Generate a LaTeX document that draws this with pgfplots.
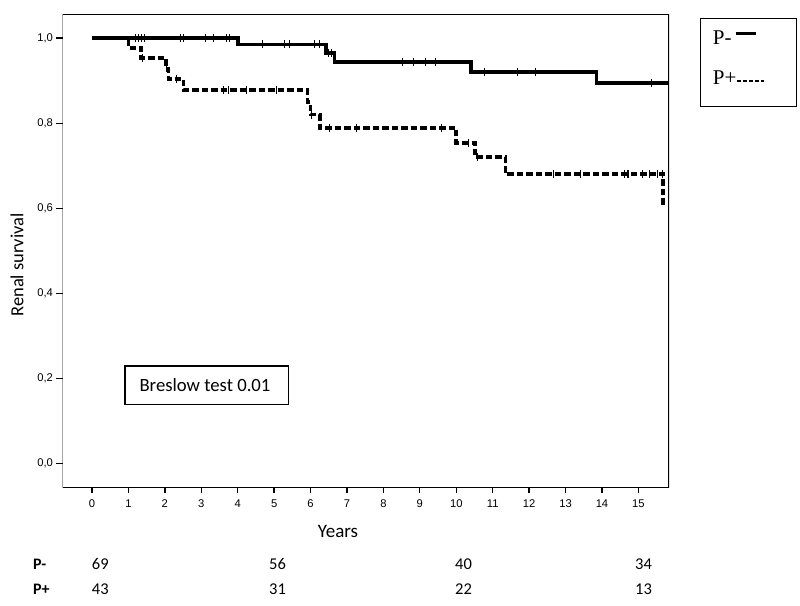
\documentclass[border=0pt]{standalone}
\usepackage{fontspec}
\usepackage{pgfplots}
\pgfplotsset{compat=1.18}
\setmainfont{Liberation Sans}
\newfontfamily\calib{Carlito}
\newfontfamily\timesf{Liberation Serif}

\begin{document}
\begin{tikzpicture}[x=1pt,y=1pt]
\useasboundingbox (0,0) rectangle (800,605);
\begin{axis}[
  at={(62.5pt,117.7pt)}, anchor=south west,
  scale only axis, width=606.5pt, height=473pt,
  xmin=-0.81, xmax=15.84, ymin=-0.056, ymax=1.056,
  axis line style={draw=none},
  xtick={0,1,...,15}, ytick={0,0.2,0.4,0.6,0.8,1},
  tick align=outside, xtick pos=left, ytick pos=left,
  major tick length=6pt,
  tick style={black, line width=1.3pt},
  tick label style={font=\fontsize{11.2}{13}\selectfont},
  xticklabel style={yshift=-3pt},
  /pgf/number format/assume math mode=true,
  yticklabel style={/pgf/number format/.cd, fixed, fixed zerofill, precision=1, use comma},
]
\draw[line width=1.3pt] (rel axis cs:0,0) rectangle (rel axis cs:1,1);
% P+ (dashed)
\addplot[const plot, black, line width=3.6pt, dash pattern=on 6.5pt off 3pt, line join=miter] coordinates {
(0,1.0) (1.0,0.977) (1.35,0.953) (2.03,0.929) (2.1,0.904) (2.51,0.878)
(5.92,0.85) (6.0,0.82) (6.26,0.789) (10.0,0.754) (10.52,0.72) (11.35,0.681)
(15.68,0.612) (15.84,0.612)};
% P- (solid)
\addplot[const plot, black, line width=3.6pt, line join=miter] coordinates {
(0,1.0) (4.0,0.985) (6.42,0.965) (6.66,0.944) (10.4,0.921) (13.85,0.895) (15.84,0.895)};
% censor marks P-
\addplot[only marks, black, mark=|, mark size=4pt, mark options={solid, line width=0.8pt}] coordinates {
(1.18,1.0) (1.27,1.0) (1.36,1.0) (1.43,1.0) (2.44,1.0) (2.51,1.0) (3.10,1.0) (3.33,1.0) (3.70,1.0) (3.76,1.0)
(4.69,0.985) (5.27,0.985) (5.42,0.985) (6.11,0.985) (6.24,0.985)
(6.5,0.965) (6.58,0.965)
(8.51,0.944) (8.83,0.944) (9.15,0.944) (9.42,0.944)
(10.77,0.921) (11.67,0.921) (12.17,0.921)
(15.35,0.895)};
% censor marks P+
\addplot[only marks, black, mark=|, mark size=4pt, mark options={solid, line width=0.8pt}] coordinates {
(1.37,0.953) (2.05,0.929) (2.33,0.904)
(3.61,0.878) (3.74,0.878) (4.25,0.878) (5.07,0.878)
(6.02,0.82) (6.52,0.789) (7.25,0.789) (9.6,0.789)
(10.34,0.754) (10.57,0.72)
(12.67,0.681) (13.4,0.681) (14.62,0.681) (14.69,0.681) (14.73,0.681) (15.1,0.681) (15.31,0.681) (15.51,0.681) (15.65,0.681)};
\end{axis}
% axis labels
\node[rotate=90, font=\calib\fontsize{18.5}{21}\selectfont] at (17,340) {Renal survival};
\node[font=\calib\fontsize{19}{22}\selectfont] at (338,74) {Years};
% risk table
\node[anchor=base west, inner sep=0pt, font=\calib\bfseries\fontsize{16}{18}\selectfont] at (33,36) {P-};
\node[anchor=base west, inner sep=0pt, font=\calib\bfseries\fontsize{16}{18}\selectfont] at (33,10.5) {P+};
\foreach \xx/\a/\b in {91.7/69/43, 269/56/31, 455/40/22, 635/34/13} {
  \node[anchor=base west, inner sep=0pt, font=\calib\fontsize{16.5}{18}\selectfont] at (\xx,36) {\a};
  \node[anchor=base west, inner sep=0pt, font=\calib\fontsize{16.5}{18}\selectfont] at (\xx,10.5) {\b};
}
% Breslow box
\draw[line width=1.3pt] (125,200.7) rectangle (288.3,239);
\node[font=\calib\fontsize{18.7}{21}\selectfont] at (205,220) {Breslow test 0.01};
% legend box
\draw[line width=1.3pt] (700.7,498.3) rectangle (796.7,586.7);
\node[anchor=base west, inner sep=0pt, font=\timesf\fontsize{21}{24}\selectfont] at (712.7,560) {P-};
\draw[line width=2.8pt] (735.7,571.7) -- (756,571.7);
\node[anchor=base west, inner sep=0pt, font=\timesf\fontsize{21}{24}\selectfont] at (712.7,520) {P+};
\draw[line width=2pt, dash pattern=on 4pt off 2pt] (737,524.3) -- (764,524.3);
\end{tikzpicture}
\end{document}
